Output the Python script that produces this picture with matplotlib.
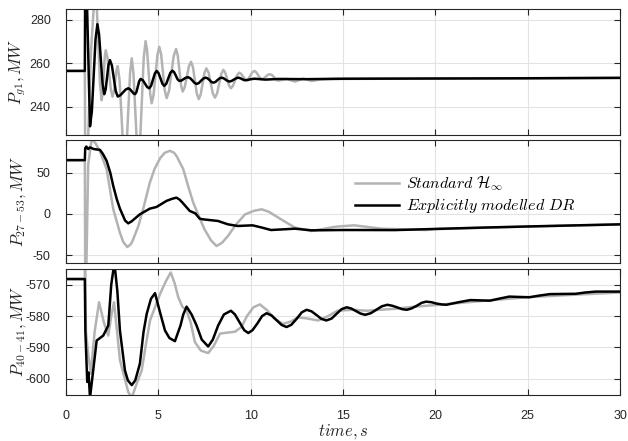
import numpy as np
import matplotlib
matplotlib.use("Agg")
import matplotlib.pyplot as plt

# --- data (time in s, power in MW) ---
t_g1_std = [0, 1.02, 1.05, 1.10, 1.35, 1.57, 1.66, 1.75, 1.84, 1.93, 1.985, 2.04, 2.095, 2.15,
            2.24, 2.335, 2.43, 2.52, 2.59, 2.66, 2.73, 2.8, 2.9, 3.0, 3.09, 3.19, 3.28, 3.375, 3.47,
            3.56, 3.65, 3.74, 3.83, 3.92, 4.02, 4.115, 4.21, 4.31, 4.39, 4.475, 4.56, 4.64, 4.74,
            4.845, 4.95, 5.05, 5.15, 5.25, 5.35, 5.45, 5.58, 5.705, 5.83, 5.96, 6.05, 6.14, 6.23,
            6.32, 6.43, 6.545, 6.66, 6.77, 6.875, 6.98, 7.085, 7.19, 7.29, 7.395, 7.5, 7.6, 7.72,
            7.835, 7.95, 8.07, 8.18, 8.295, 8.41, 8.52, 8.62, 8.725, 8.83, 8.93, 9.04, 9.155, 9.27,
            9.38, 9.48, 9.58, 9.68, 9.78, 9.885, 9.99, 10.095, 10.2, 10.3, 10.4, 10.5, 10.6, 10.71,
            10.82, 10.93, 11.04, 11.155, 11.27, 11.385, 11.5, 11.95, 12.4, 12.85, 13.3, 13.8, 14.5,
            20, 30]
p_g1_std = [256.5, 256.5, 200, 200, 265, 295, 287.4, 269, 250.6, 243, 246.4, 254.5, 262.6, 266,
            262.9, 255.4, 247.8, 244.7, 246.7, 251.7, 256.7, 258.7, 252.3, 236.9, 221.4, 215, 221.9, 238.7, 255.4,
            262.3, 255.8, 240.2, 224.5, 218, 225.6, 244.1, 262.6, 270.2, 266, 255.9, 245.8, 241.6, 245.4,
            254.6, 263.8, 267.6, 264.2, 255.8, 247.4, 244, 247.3, 255.3, 263.3, 266.6, 263.7, 256.8, 249.9,
            247, 249, 253.9, 258.7, 260.7, 258.2, 252.1, 246.0, 243.5, 245.6, 250.6, 255.6, 257.7, 255.7,
            251, 246.2, 244.2, 246.1, 250.6, 255.1, 257, 255.8, 252.8, 249.7, 248.5, 249.6, 252.1, 254.6,
            255.7, 255.2, 254, 252.8, 252.3, 252.9, 254.4, 255.9, 256.5, 255.9, 254.6, 253.3, 252.7, 253,
            253.9, 254.7, 255, 254.6, 253.5, 252.4, 252, 252.8, 251.6, 253, 251.9, 252.6, 252.8,
            253, 253.3]

t_g1_dr = [0, 1.02, 1.04, 1.10, 1.30, 1.4, 1.5, 1.6, 1.7, 1.79, 1.885, 1.98, 2.07, 2.15, 2.225, 2.30,
           2.38, 2.485, 2.59, 2.695, 2.8, 2.94, 3.085, 3.23, 3.37, 3.46, 3.555, 3.65, 3.74, 3.815,
           3.89, 3.965, 4.04, 4.16, 4.275, 4.39, 4.51, 4.61, 4.71, 4.81, 4.91, 5.01, 5.115, 5.22,
           5.32, 5.43, 5.54, 5.65, 5.76, 5.855, 5.95, 6.045, 6.14, 6.26, 6.38, 6.5, 6.62, 6.73,
           6.845, 6.96, 7.07, 7.19, 7.315, 7.44, 7.56, 7.665, 7.77, 7.875, 7.98, 8.09, 8.205, 8.32,
           8.43, 8.535, 8.64, 8.745, 8.85, 8.97, 9.09, 9.21, 9.33, 9.42, 9.515, 9.61, 9.7, 9.83,
           9.965, 10.1, 10.23, 10.8, 11.5, 13, 15, 20, 25, 30]
p_g1_dr = [256.5, 256.5, 300, 300, 231, 237.9, 254.5, 271.1, 278, 273.3, 261.9, 250.5, 245.8, 248.1, 253.7, 259.2,
           261.5, 259, 253.1, 247.2, 244.7, 245.3, 246.6, 247.9, 248.5, 248.1, 247.2, 246.2, 245.8, 246.8,
           249.3, 251.8, 252.8, 252.2, 250.7, 249.1, 248.5, 249.7, 252.5, 255.3, 256.5, 255.5, 253.1, 250.6,
           249.6, 250.6, 253.1, 255.6, 256.6, 255.9, 254.3, 252.6, 251.9, 252.1, 252.8, 253.4, 253.6, 253.1,
           252.1, 251, 250.5, 250.9, 252, 253, 253.4, 253.1, 252.3, 251.4, 251.1, 251.4, 252.3, 253.1,
           253.4, 253.1, 252.5, 251.9, 251.6, 251.9, 252.5, 253.1, 253.4, 253.2, 252.8, 252.4, 252.2, 252.3,
           252.6, 252.8, 252.9, 252.5, 252.8, 252.7, 252.9, 253.0, 253.1, 253.3]

t_line_std = [0, 1.02, 1.04, 1.1, 1.2, 1.39, 1.6, 1.84, 2.2, 2.56, 2.92, 3.1, 3.32, 3.5, 3.6, 3.92,
              4.2, 4.54, 4.8, 5.1, 5.35, 5.63, 5.85, 6.0, 6.35, 6.6, 6.89, 7.2, 7.5, 7.85, 8.15,
              8.45, 8.77, 9.2, 9.7, 10.2, 10.6, 11.0, 11.5, 12.4, 13.3, 14.6, 15.6, 17.1,
              19.5, 20, 25, 30]
p_line_std = [65.5, 65.5, -70, -70, 60, 91, 86, 76, 54.5, 5.7, -22.8, -34, -40.2, -37, -33, -14.6,
              8, 38.2, 55, 68, 74.5, 76.8, 74.5, 70, 54.5, 35, 13.8, -3, -18.7, -32, -39,
              -35, -26.8, -13, -0.4, 4, 5.7, 2.5, -4.5, -16.7, -20.7, -15.5, -13.8, -17.9,
              -19.5, -18.4, -15.3, -12.8]

t_line_dr = [0, 1.02, 1.04, 1.1, 1.2, 1.3, 1.5, 1.84, 2.0, 2.2, 2.4, 2.56, 2.75, 2.92, 3.2, 3.37,
             3.55, 4.0, 4.54, 4.9, 5.44, 5.75, 5.98, 6.15, 6.3, 6.7, 7.0, 7.24, 7.42, 8.23, 8.77,
             9.3, 10.1, 10.6, 11.1, 12.4, 13.3, 15.1, 17.8, 20, 22.5, 25, 27.5, 30]
p_line_dr = [65.5, 65.5, 80, 82, 79, 81, 79, 78, 73, 64.6, 50, 34, 18, 6.5, -8, -11.4,
             -9, -0.4, 6.5, 8.5, 15.9, 18.5, 19.9, 17.5, 14, 3.7, 0.8, -5.7, -6.5, -8.5, -12.6,
             -14.6, -13.8, -16.5, -19.5, -17.9, -19.9, -19.5, -19.6, -18.2, -16.6, -15.2, -13.9, -12.6]

t_tie_std = [0, 1.02, 1.03, 1.08, 1.2, 1.34, 1.55, 1.79, 2.05, 2.29, 2.45, 2.6, 2.75, 2.92, 3.37, 3.56,
             3.8, 4.1, 4.3, 4.55, 5.09, 5.4, 5.67, 5.88, 6.08, 6.3, 6.53, 6.75, 6.98, 7.3, 7.7,
             8.0, 8.34, 8.7, 9.15, 9.5, 9.8, 10.15, 10.5, 10.9, 11.3, 11.75, 12.15, 12.57, 13.1,
             13.65, 14.2, 14.7, 15.5, 16.3, 17.0, 17.8, 18.9, 20, 22.5, 25, 27.5, 30]
p_tie_std = [-568.2, -568.2, -560, -585, -592, -598.3, -585, -575.6, -582, -586.2, -580, -575.6, -584, -594, -604.2, -606,
             -602, -597.3, -590, -581.4, -573, -569, -566.1, -569.5, -574, -577, -578.3, -582, -588.3, -591, -591.8,
             -589.5, -585.6, -585.3, -585, -583.5, -580, -577.2, -576.3, -578.2, -580.9, -582.5, -581.8, -580.4, -580.8,
             -581.4, -580, -578.3, -578, -578.3, -578, -577.7, -577, -576.5, -575.2, -574, -573.2, -572.5]

t_tie_dr = [0, 1.02, 1.05, 1.15, 1.22, 1.3, 1.42, 1.66, 2.02, 2.29, 2.45, 2.62, 2.78, 2.92, 3.19, 3.35,
            3.56, 3.75, 4.0, 4.2, 4.37, 4.6, 4.82, 5.1, 5.36, 5.6, 5.9, 6.2, 6.35, 6.53, 6.8,
            7.07, 7.35, 7.7, 7.95, 8.24, 8.55, 8.93, 9.15, 9.4, 9.65, 9.87, 10.1, 10.37, 10.62,
            10.86, 11.13, 11.4, 11.67, 11.94, 12.2, 12.5, 12.77, 13.03, 13.3, 13.57, 13.83, 14.1,
            14.38, 14.65, 14.92, 15.2, 15.45, 15.7, 15.95, 16.2, 16.5, 16.8, 17.1, 17.4, 17.66,
            17.92, 18.2, 18.45, 18.7, 19.0, 19.25, 19.5, 19.8, 20.05, 20.35, 20.6, 21.25, 21.9,
            22.4, 22.95, 23.5, 24.0, 24.5, 25.1, 25.6, 26.2, 26.9, 27.6, 28.1, 28.7, 30]
p_tie_dr = [-568.2, -568.2, -585, -601, -598, -606, -600, -587.8, -586.2, -583, -570, -563, -572, -584.6, -597.3, -600.5,
            -602, -600.5, -595.2, -585, -579.3, -574.5, -572.7, -579, -584.6, -587, -588, -583, -579.5, -577, -579.5,
            -583, -587.5, -589.7, -587.5, -583, -579.5, -578.3, -579.5, -582, -584.5, -585.4, -584.5, -582.3, -580,
            -579.1, -579.8, -581.3, -582.8, -583.5, -582.8, -580.8, -578.8, -578, -578.5, -579.7, -580.9, -581.4,
            -580.8, -579.3, -577.8, -577.2, -577.6, -578.4, -579.2, -579.6, -579.1, -578, -576.9, -576.4, -576.7,
            -577.2, -577.8, -578, -577.6, -576.7, -575.8, -575.4, -575.6, -576, -576.3, -576.4, -575.6, -574.9,
            -575, -575.1, -574.4, -573.8, -573.9, -574, -573.5, -573, -572.95, -572.9, -572.5, -572.2, -572.2]

series_labels = [r'$Standard\ \mathcal{H}_\infty$', r'$Explicitly\ modelled\ DR$']
y_labels = [r'$P_{g1}, MW$', r'$P_{27-53}, MW$', r'$P_{40-41}, MW$']
y_ticks = [[240, 260, 280], [-50, 0, 50], [-600, -590, -580, -570]]
y_limits = [(227, 285), (-60, 90), (-605, -565)]
x_ticks = [0, 5, 10, 15, 20, 25, 30]

plt.rcParams['font.family'] = ['Liberation Sans', 'DejaVu Sans']
plt.rcParams['mathtext.fontset'] = 'cm'

W, H = 628, 441
fig = plt.figure(figsize=(W / 100, H / 100), dpi=100)

# panel extents in pixels (top, bottom)
left_px, right_px = 66, 620
panels_px = [(9, 135), (140, 263.3), (269, 394.5)]

grey = '#b3b3b3'
data = [(t_g1_std, p_g1_std, t_g1_dr, p_g1_dr),
        (t_line_std, p_line_std, t_line_dr, p_line_dr),
        (t_tie_std, p_tie_std, t_tie_dr, p_tie_dr)]

axes = []
for i, (top, bot) in enumerate(panels_px):
    ax = fig.add_axes([left_px / W, 1 - bot / H, (right_px - left_px) / W, (bot - top) / H])
    ts, ps, td, pd_ = data[i]
    ax.plot(ts, ps, color=grey, lw=1.8, label=series_labels[0], solid_joinstyle='round')
    ax.plot(td, pd_, color='black', lw=1.8, label=series_labels[1], solid_joinstyle='round')
    ax.set_xlim(0, 30)
    ax.set_ylim(*y_limits[i])
    ax.set_xticks(x_ticks)
    ax.set_yticks(y_ticks[i])
    ax.set_yticklabels([str(v) for v in y_ticks[i]])
    ax.grid(True, color='#e3e3e3', lw=0.8)
    ax.set_axisbelow(True)
    ax.tick_params(direction='in', length=4, width=0.8, top=True, right=True,
                   labelsize=9, colors='#262626', pad=11)
    for s in ax.spines.values():
        s.set_linewidth(0.8)
        s.set_color('#262626')
    ax.set_ylabel(y_labels[i], fontsize=12, color='#262626')
    ax.yaxis.set_label_coords(-0.069, 0.5)
    if i < 2:
        ax.tick_params(labelbottom=False)
    axes.append(ax)

axes[2].set_xlabel(r'$time, s$', fontsize=12, color='#262626')
axes[2].xaxis.set_label_coords(0.5, -0.22)

axes[1].legend(loc='upper left', bbox_to_anchor=(0.522, 0.72), frameon=False,
               fontsize=11.5, handlelength=2.75, handletextpad=0.4,
               borderpad=0, borderaxespad=0, labelspacing=0.25)

fig.savefig('out.png', dpi=100)
